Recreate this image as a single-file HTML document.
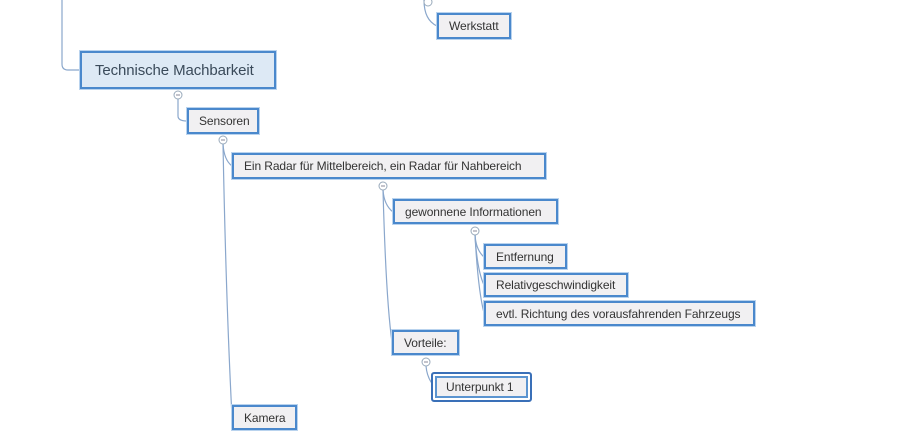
<!DOCTYPE html>
<html><head><meta charset="utf-8"><style>
html,body{margin:0;padding:0;background:#fff;width:914px;height:436px;overflow:hidden;position:relative;font-family:"Liberation Sans",sans-serif;}
.b{position:absolute;box-sizing:border-box;border:2px solid #4a88cc;background:#f1f0f2;color:#333;font-size:12px;line-height:1;padding-left:10px;display:flex;align-items:center;box-shadow:0 0 0 1px #b9d3ee;letter-spacing:-0.1px}
svg{position:absolute;left:0;top:0}
</style></head><body>
<svg width="914" height="436" fill="none" stroke="#8aa7cc" stroke-width="1.2">
<path d="M62 0 V64 Q62 70 68 70 H80"/>
<path d="M424 0 Q424 20 437 26"/>
<path d="M178 99 V116 Q178 121 187 121"/>
<path d="M223 144 Q224 160 232 166"/>
<path d="M223 144 Q226 300 232 417"/>
<path d="M383 190 Q384 205 393 212"/>
<path d="M383 190 Q386 300 392 342"/>
<path d="M475 235 Q476 250 484 257"/>
<path d="M475 235 Q477 270 484 285"/>
<path d="M475 235 Q478 290 484 313"/>
<path d="M426 366 Q427 378 434 386"/>
<g stroke="#9ab" fill="#fff" stroke-width="1">
<circle cx="178" cy="95" r="4"/><circle cx="223" cy="140" r="4"/><circle cx="383" cy="186" r="4"/><circle cx="475" cy="231" r="4"/><circle cx="426" cy="362" r="4"/><circle cx="428" cy="2" r="4"/>
</g>
<g stroke="#889" stroke-width="1"><path d="M176 95h4M221 140h4M381 186h4M473 231h4M424 362h4"/></g>
</svg>
<div class="b" style="left:80px;top:51px;width:196px;height:38px;background:#dde9f5;font-size:15px;padding-left:13px;color:#3a4a5a">Technische Machbarkeit</div>
<div class="b" style="left:437px;top:13px;width:74px;height:26px">Werkstatt</div>
<div class="b" style="left:187px;top:108px;width:72px;height:26px">Sensoren</div>
<div class="b" style="left:232px;top:153px;width:314px;height:26px">Ein Radar für Mittelbereich, ein Radar für Nahbereich</div>
<div class="b" style="left:393px;top:199px;width:165px;height:25px">gewonnene Informationen</div>
<div class="b" style="left:484px;top:244px;width:83px;height:25px">Entfernung</div>
<div class="b" style="left:484px;top:273px;width:144px;height:24px">Relativgeschwindigkeit</div>
<div class="b" style="left:484px;top:301px;width:271px;height:25px">evtl. Richtung des vorausfahrenden Fahrzeugs</div>
<div class="b" style="left:392px;top:330px;width:67px;height:25px">Vorteile:</div>
<div class="b" style="left:431px;top:372px;width:101px;height:30px;border:2px solid #3a70b8;border-radius:3px;box-shadow:inset 0 0 0 2px #fff,inset 0 0 0 4px #5b94d0;padding-left:13px">Unterpunkt 1</div>
<div class="b" style="left:232px;top:405px;width:65px;height:25px">Kamera</div>
</body></html>
